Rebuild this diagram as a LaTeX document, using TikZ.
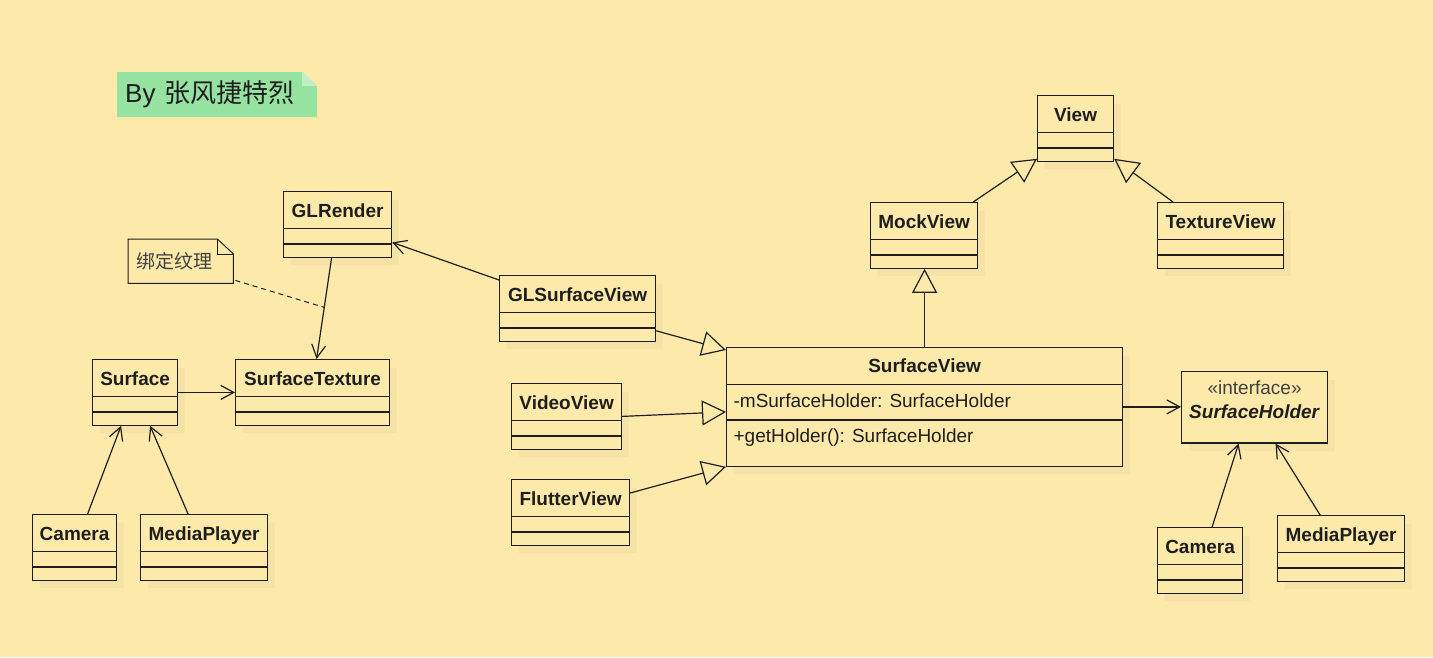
\documentclass[tikz,border=0pt]{standalone}
\usepackage{fontspec}
\setmainfont{Liberation Sans}
\newfontfamily\cjk{Noto Sans CJK SC}
\usetikzlibrary{shapes.multipart,arrows.meta,shadows}
\definecolor{paper}{RGB}{253,234,170}
\definecolor{mint}{RGB}{150,226,160}
\definecolor{ink}{RGB}{30,30,30}
\newcommand{\hd}{\rule[-11pt]{0pt}{36pt}}
\newcommand{\slotA}{\rule{0pt}{14pt}}
\newcommand{\slotB}{\rule{0pt}{12pt}}

\begin{document}
\begin{tikzpicture}[x=1pt,y=-1pt,
    cls/.style = {draw=ink, fill=paper, line width=1.2pt, anchor=north west,
        rectangle split, rectangle split parts=3, inner xsep=7pt, inner ysep=0pt,
        font=\fontsize{19}{22}\selectfont\bfseries, text=ink,
        drop shadow={opacity=0.07, shadow xshift=7pt, shadow yshift=-8pt}},
    memo/.style = {anchor=north west, inner xsep=8pt, align=left, text=ink},
    assoc/.style = {draw=ink, line width=1.2pt, -{Straight Barb[length=13pt,width=14pt]}},
    inh/.style = {draw=ink, line width=1.2pt, -{Triangle[open,length=24pt,width=25pt]}}]
    \path[use as bounding box, fill=paper] (0,0) rectangle (1433,657);

    % notes
    \node[memo, minimum width=200pt, minimum height=45pt, text width=184pt,
        font=\fontsize{26}{30}\selectfont,
        path picture={
            \fill[mint] (path picture bounding box.north west)
                -- ([xshift=-15pt]path picture bounding box.north east)
                -- ([yshift=-14pt]path picture bounding box.north east)
                -- (path picture bounding box.south east)
                -- (path picture bounding box.south west) -- cycle;
            \fill[mint!60!white] ([xshift=-15pt]path picture bounding box.north east)
                |- ([yshift=-14pt]path picture bounding box.north east) -- cycle;
        }] (sign) at (117,72) {By {\cjk 张风捷特烈}};
    \node[memo, minimum width=105pt, minimum height=44pt, text width=89pt,
        font=\fontsize{19}{22}\selectfont\cjk, text=ink!85] (bind) at (128,239) {绑定纹理};
    \draw[ink, line width=1pt] (bind.north west) -- ([xshift=-16pt]bind.north east)
        -- ([yshift=-15pt]bind.north east) -- (bind.south east) -- (bind.south west) -- cycle;
    \draw[ink, line width=1pt] ([xshift=-16pt]bind.north east) |- ([yshift=-15pt]bind.north east);

    % classes
    \node[cls, minimum width=108pt] (glr) at (283,191) {\hd GLRender \nodepart{two}\slotA \nodepart{three}\slotB};
    \node[cls, minimum width=85pt] (surf) at (92,359) {\hd Surface \nodepart{two}\slotA \nodepart{three}\slotB};
    \node[cls, minimum width=154pt] (stex) at (235,359) {\hd SurfaceTexture \nodepart{two}\slotA \nodepart{three}\slotB};
    \node[cls, minimum width=84pt] (camL) at (32,514) {\hd Camera \nodepart{two}\slotA \nodepart{three}\slotB};
    \node[cls, minimum width=127pt] (mpL) at (140,514) {\hd MediaPlayer \nodepart{two}\slotA \nodepart{three}\slotB};
    \node[cls, minimum width=156pt] (glsv) at (499,275) {\hd GLSurfaceView \nodepart{two}\slotA \nodepart{three}\slotB};
    \node[cls, minimum width=110pt] (vv) at (511,383) {\hd VideoView \nodepart{two}\slotA \nodepart{three}\slotB};
    \node[cls, minimum width=118pt] (fv) at (511,479) {\hd FlutterView \nodepart{two}\slotA \nodepart{three}\slotB};
    \node[cls, minimum width=107pt] (mock) at (870,202) {\hd MockView \nodepart{two}\slotA \nodepart{three}\slotB};
    \node[cls, minimum width=76pt] (view) at (1037,95) {\hd View \nodepart{two}\slotA \nodepart{three}\slotB};
    \node[cls, minimum width=126pt, inner xsep=6pt] (tv) at (1157,202) {\hd TextureView \nodepart{two}\slotA \nodepart{three}\slotB};
    \node[cls, minimum width=85pt] (camR) at (1157,527) {\hd Camera \nodepart{two}\slotA \nodepart{three}\slotB};
    \node[cls, minimum width=127pt] (mpR) at (1277,515) {\hd MediaPlayer \nodepart{two}\slotA \nodepart{three}\slotB};
    \node[cls, minimum width=396pt, rectangle split part align={center,left,left}] (sv) at (726,347)
        {\rule[-12pt]{0pt}{36pt}SurfaceView
        \nodepart{two}\rule[-12pt]{0pt}{34pt}\textmd{-mSurfaceHolder: SurfaceHolder}
        \nodepart{three}\rule[-23pt]{0pt}{45pt}\textmd{+getHolder(): SurfaceHolder}};
    \node[cls, rectangle split parts=2, rectangle split draw splits=false, minimum width=146pt] (sh) at (1181,371)
        {\rule[-5pt]{0pt}{27pt}\textmd{\textcolor{ink!85}{«interface»}}
        \nodepart{two}\rule[-24pt]{0pt}{42pt}\textit{SurfaceHolder}};

    % links
    \draw[assoc] ([xshift=-6pt]glr.south) -- coordinate[pos=0.49] (tie) ([xshift=4pt]stex.north);
    \draw[ink, line width=1pt, dash pattern=on 5pt off 4pt] ([xshift=2pt,yshift=3pt]bind.south east) -- (tie);
    \draw[assoc] (surf.east) -- (stex.west);
    \draw[assoc] ([xshift=13pt]camL.north) -- ([xshift=-14pt]surf.south);
    \draw[assoc] ([xshift=-16pt]mpL.north) -- ([xshift=15pt]surf.south);
    \draw[assoc] ([yshift=-5pt]glsv.north west) -- ([yshift=-18pt]glr.east);
    \draw[inh] ([yshift=11pt]glsv.south east) -- ([yshift=-3pt]sv.north west);
    \draw[inh] (vv.east) -- ([yshift=-5pt]sv.west);
    \draw[inh] ([yshift=-14pt]fv.north east) -- (sv.south west);
    \draw[inh] (sv.north) -- (sv.north |- mock.south);
    \draw[inh] ([xshift=-5pt]mock.north east) -- ([yshift=3pt]view.south west);
    \draw[inh] ([xshift=16pt]tv.north west) -- ([yshift=3pt]view.south east);
    \draw[assoc] (sv.east) -- (sv.east -| sh.west);
    \draw[assoc] ([xshift=12pt]camR.north) -- ([xshift=-16pt]sh.south);
    \draw[assoc] ([xshift=-21pt]mpR.north) -- ([xshift=21pt]sh.south);
\end{tikzpicture}
\end{document}
